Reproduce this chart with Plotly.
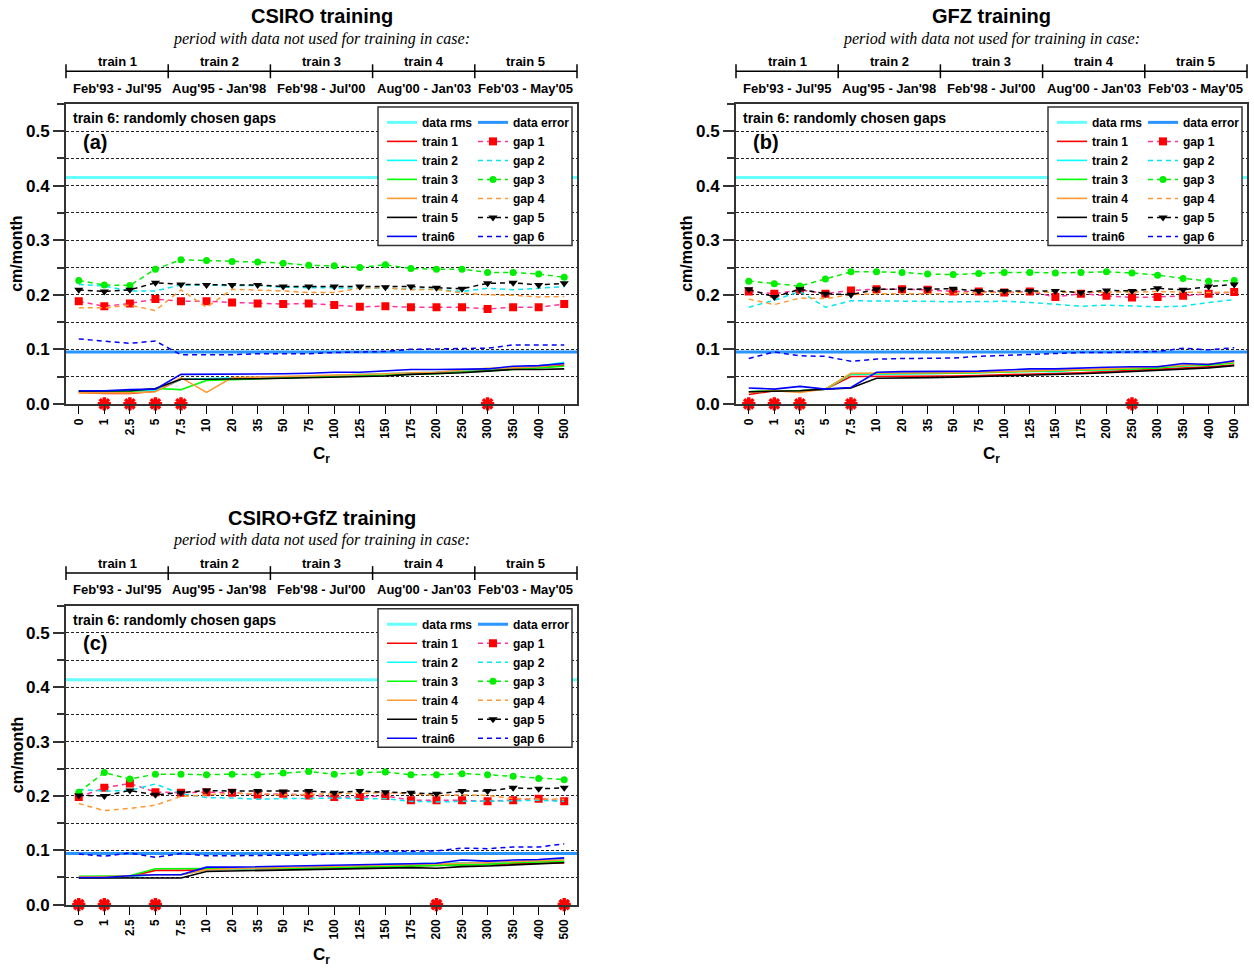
import plotly.graph_objects as go

W, H = 1254, 975
FONT = "Liberation Sans, Arial, Helvetica, sans-serif"
SERIF = "Liberation Serif, Times New Roman, serif"

# ---------------- data ----------------
CATS = ["0", "1", "2.5", "5", "7.5", "10", "20", "35", "50", "75", "100", "125",
        "150", "175", "200", "250", "300", "350", "400", "500"]
PERIOD_TRAINS = ["train 1", "train 2", "train 3", "train 4", "train 5"]
PERIOD_DATES = ["Feb'93 - Jul'95", "Aug'95 - Jan'98", "Feb'98 - Jul'00",
                "Aug'00 - Jan'03", "Feb'03 - May'05"]
TITLES = ["CSIRO training", "GFZ training", "CSIRO+GfZ training"]
PANEL_LABELS = ["(a)", "(b)", "(c)"]

DATA_RMS = [0.415, 0.415, 0.414]
DATA_ERROR = [0.095, 0.095, 0.094]

# panel (a) CSIRO
A_TRAIN1 = [0.021, 0.019, 0.019, 0.023, 0.045, 0.045, 0.046, 0.047, 0.048, 0.048, 0.050, 0.051, 0.052, 0.055, 0.057, 0.059, 0.062, 0.065, 0.068, 0.071]
A_TRAIN2 = [0.024, 0.022, 0.022, 0.025, 0.045, 0.046, 0.047, 0.048, 0.049, 0.050, 0.052, 0.054, 0.055, 0.057, 0.058, 0.061, 0.063, 0.066, 0.069, 0.076]
A_TRAIN3 = [0.022, 0.021, 0.022, 0.028, 0.026, 0.043, 0.044, 0.046, 0.048, 0.049, 0.050, 0.051, 0.052, 0.054, 0.055, 0.058, 0.060, 0.063, 0.066, 0.069]
A_TRAIN4 = [0.020, 0.020, 0.020, 0.022, 0.048, 0.021, 0.048, 0.049, 0.050, 0.051, 0.052, 0.053, 0.055, 0.057, 0.058, 0.062, 0.065, 0.066, 0.068, 0.073]
A_TRAIN5 = [0.023, 0.023, 0.024, 0.028, 0.045, 0.045, 0.045, 0.046, 0.047, 0.048, 0.050, 0.050, 0.051, 0.054, 0.055, 0.057, 0.060, 0.063, 0.063, 0.064]
A_TRAIN6 = [0.024, 0.024, 0.026, 0.027, 0.054, 0.054, 0.054, 0.055, 0.055, 0.056, 0.058, 0.058, 0.060, 0.063, 0.063, 0.064, 0.064, 0.069, 0.070, 0.074]
A_GAP1 = [0.188, 0.179, 0.184, 0.192, 0.188, 0.188, 0.186, 0.184, 0.183, 0.184, 0.181, 0.178, 0.179, 0.177, 0.177, 0.177, 0.174, 0.177, 0.177, 0.183]
A_GAP2 = [0.219, 0.216, 0.207, 0.207, 0.218, 0.217, 0.217, 0.217, 0.214, 0.213, 0.213, 0.212, 0.212, 0.210, 0.210, 0.206, 0.212, 0.209, 0.212, 0.215]
A_GAP3 = [0.226, 0.218, 0.217, 0.247, 0.264, 0.263, 0.261, 0.260, 0.258, 0.254, 0.253, 0.250, 0.255, 0.248, 0.247, 0.247, 0.241, 0.241, 0.238, 0.232]
A_GAP4 = [0.176, 0.176, 0.181, 0.171, 0.209, 0.177, 0.210, 0.209, 0.207, 0.204, 0.204, 0.212, 0.213, 0.209, 0.210, 0.203, 0.200, 0.199, 0.196, 0.197]
A_GAP5 = [0.209, 0.206, 0.209, 0.222, 0.219, 0.218, 0.218, 0.218, 0.215, 0.215, 0.215, 0.215, 0.214, 0.215, 0.213, 0.211, 0.221, 0.222, 0.218, 0.221]
A_GAP6 = [0.119, 0.115, 0.111, 0.115, 0.090, 0.090, 0.090, 0.092, 0.092, 0.092, 0.094, 0.095, 0.096, 0.100, 0.101, 0.102, 0.102, 0.108, 0.108, 0.108]
A_STARS = ["1", "2.5", "5", "7.5", "300"]
A_STAR_Y = [0, 0, 0, 0, 0]

# panel (b) GFZ
B_TRAIN1 = [0.017, 0.024, 0.024, 0.027, 0.050, 0.050, 0.050, 0.050, 0.051, 0.052, 0.053, 0.054, 0.055, 0.057, 0.059, 0.061, 0.064, 0.066, 0.068, 0.071]
B_TRAIN2 = [0.022, 0.024, 0.024, 0.027, 0.054, 0.054, 0.055, 0.055, 0.056, 0.057, 0.059, 0.060, 0.059, 0.063, 0.062, 0.064, 0.066, 0.069, 0.072, 0.076]
B_TRAIN3 = [0.022, 0.024, 0.024, 0.027, 0.055, 0.055, 0.055, 0.056, 0.056, 0.057, 0.058, 0.059, 0.060, 0.061, 0.062, 0.064, 0.066, 0.070, 0.071, 0.075]
B_TRAIN4 = [0.021, 0.024, 0.021, 0.027, 0.056, 0.056, 0.056, 0.057, 0.057, 0.058, 0.059, 0.060, 0.061, 0.062, 0.064, 0.066, 0.068, 0.071, 0.073, 0.077]
B_TRAIN5 = [0.022, 0.023, 0.024, 0.027, 0.029, 0.047, 0.047, 0.048, 0.049, 0.050, 0.051, 0.052, 0.053, 0.055, 0.057, 0.059, 0.062, 0.064, 0.066, 0.070]
B_TRAIN6 = [0.029, 0.027, 0.032, 0.027, 0.030, 0.058, 0.059, 0.059, 0.060, 0.060, 0.062, 0.064, 0.064, 0.066, 0.067, 0.068, 0.068, 0.074, 0.072, 0.079]
B_GAP1 = [0.206, 0.202, 0.209, 0.202, 0.208, 0.210, 0.210, 0.209, 0.206, 0.206, 0.204, 0.206, 0.196, 0.202, 0.198, 0.195, 0.196, 0.198, 0.202, 0.205]
B_GAP2 = [0.177, 0.190, 0.206, 0.177, 0.189, 0.189, 0.189, 0.188, 0.187, 0.187, 0.188, 0.186, 0.182, 0.179, 0.181, 0.179, 0.178, 0.179, 0.186, 0.191]
B_GAP3 = [0.225, 0.220, 0.216, 0.229, 0.242, 0.242, 0.241, 0.238, 0.237, 0.239, 0.241, 0.241, 0.240, 0.241, 0.242, 0.240, 0.236, 0.230, 0.225, 0.226]
B_GAP4 = [0.192, 0.182, 0.194, 0.193, 0.200, 0.202, 0.202, 0.202, 0.202, 0.204, 0.204, 0.205, 0.204, 0.204, 0.205, 0.205, 0.206, 0.205, 0.204, 0.205]
B_GAP5 = [0.210, 0.196, 0.210, 0.202, 0.200, 0.210, 0.210, 0.210, 0.211, 0.207, 0.207, 0.207, 0.207, 0.204, 0.208, 0.207, 0.212, 0.209, 0.215, 0.219]
B_GAP6 = [0.083, 0.095, 0.088, 0.087, 0.078, 0.082, 0.083, 0.084, 0.084, 0.087, 0.089, 0.090, 0.092, 0.094, 0.094, 0.095, 0.096, 0.102, 0.099, 0.103]
B_STARS = ["0", "1", "2.5", "7.5", "250"]
B_STAR_Y = [0, 0, 0, 0, 0]

# panel (c) CSIRO+GfZ
C_TRAIN1 = [0.050, 0.050, 0.052, 0.063, 0.063, 0.064, 0.065, 0.066, 0.067, 0.068, 0.069, 0.070, 0.071, 0.072, 0.072, 0.073, 0.074, 0.076, 0.077, 0.077]
C_TRAIN2 = [0.050, 0.050, 0.052, 0.055, 0.055, 0.064, 0.065, 0.066, 0.067, 0.068, 0.069, 0.071, 0.074, 0.075, 0.075, 0.076, 0.077, 0.079, 0.080, 0.083]
C_TRAIN3 = [0.052, 0.052, 0.053, 0.066, 0.066, 0.066, 0.066, 0.067, 0.067, 0.067, 0.068, 0.069, 0.070, 0.071, 0.072, 0.073, 0.074, 0.077, 0.078, 0.080]
C_TRAIN4 = [0.051, 0.051, 0.053, 0.055, 0.055, 0.064, 0.066, 0.067, 0.068, 0.069, 0.070, 0.071, 0.072, 0.073, 0.074, 0.076, 0.078, 0.080, 0.081, 0.082]
C_TRAIN5 = [0.049, 0.049, 0.049, 0.049, 0.049, 0.061, 0.062, 0.062, 0.063, 0.064, 0.065, 0.066, 0.067, 0.068, 0.067, 0.070, 0.071, 0.073, 0.074, 0.077]
C_TRAIN6 = [0.050, 0.050, 0.053, 0.055, 0.055, 0.069, 0.069, 0.070, 0.070, 0.071, 0.072, 0.073, 0.075, 0.076, 0.076, 0.082, 0.080, 0.082, 0.083, 0.086]
C_GAP1 = [0.198, 0.215, 0.223, 0.207, 0.206, 0.207, 0.206, 0.202, 0.204, 0.201, 0.198, 0.198, 0.200, 0.192, 0.192, 0.192, 0.190, 0.192, 0.195, 0.190]
C_GAP2 = [0.212, 0.209, 0.210, 0.222, 0.204, 0.197, 0.196, 0.194, 0.195, 0.196, 0.196, 0.195, 0.195, 0.190, 0.189, 0.190, 0.190, 0.191, 0.192, 0.190]
C_GAP3 = [0.207, 0.243, 0.231, 0.240, 0.240, 0.239, 0.240, 0.239, 0.242, 0.245, 0.240, 0.243, 0.244, 0.239, 0.239, 0.241, 0.239, 0.236, 0.232, 0.230]
C_GAP4 = [0.186, 0.173, 0.177, 0.183, 0.199, 0.202, 0.205, 0.204, 0.202, 0.203, 0.204, 0.205, 0.206, 0.204, 0.201, 0.202, 0.201, 0.195, 0.195, 0.194]
C_GAP5 = [0.201, 0.200, 0.210, 0.202, 0.206, 0.210, 0.209, 0.209, 0.208, 0.209, 0.206, 0.209, 0.207, 0.206, 0.204, 0.209, 0.209, 0.215, 0.213, 0.215]
C_GAP6 = [0.093, 0.089, 0.095, 0.087, 0.094, 0.090, 0.090, 0.091, 0.091, 0.091, 0.093, 0.095, 0.098, 0.098, 0.099, 0.104, 0.103, 0.106, 0.106, 0.112]
C_STARS = ["0", "1", "5", "200", "500"]
C_STAR_Y = [0, 0, 0, 0, 0]

TRAIN_NAMES = ["train 1", "train 2", "train 3", "train 4", "train 5", "train6"]
GAP_NAMES = ["gap 1", "gap 2", "gap 3", "gap 4", "gap 5", "gap 6"]

PANELS = [
    dict(train=[A_TRAIN1, A_TRAIN2, A_TRAIN3, A_TRAIN4, A_TRAIN5, A_TRAIN6],
         gap=[A_GAP1, A_GAP2, A_GAP3, A_GAP4, A_GAP5, A_GAP6],
         stars=A_STARS, stars_y=A_STAR_Y),
    dict(train=[B_TRAIN1, B_TRAIN2, B_TRAIN3, B_TRAIN4, B_TRAIN5, B_TRAIN6],
         gap=[B_GAP1, B_GAP2, B_GAP3, B_GAP4, B_GAP5, B_GAP6],
         stars=B_STARS, stars_y=B_STAR_Y),
    dict(train=[C_TRAIN1, C_TRAIN2, C_TRAIN3, C_TRAIN4, C_TRAIN5, C_TRAIN6],
         gap=[C_GAP1, C_GAP2, C_GAP3, C_GAP4, C_GAP5, C_GAP6],
         stars=C_STARS, stars_y=C_STAR_Y),
]

# ---------------- styles ----------------
TRAIN_COLORS = ["#ff0000", "#00ffff", "#00ff00", "#ff9933", "#000000", "#0000ff"]
GAP_COLORS = ["#ff3399", "#00e8f0", "#00ee00", "#ff9933", "#000000", "#0000ff"]
GAP_MARKERS = [dict(symbol="square", size=8, color="#ff0000"), None,
               dict(symbol="circle", size=7, color="#00ee00"), None,
               dict(symbol="triangle-down", size=8, color="#000000"), None]
RMS_COLOR = "#66ffff"
ERR_COLOR = "#2b95ff"

# panel geometry (pixels): left, right, top, bottom
GEOM = [(66, 577, 105, 408), (736, 1247, 105, 408), (66, 577, 612, 914)]
HEADER_DY = [0, 0, 507]


def px(x):
    return x / W


def py(y):
    return 1 - y / H


fig = go.Figure()
shapes = []
annotations = []
layout = dict(width=W, height=H, margin=dict(l=0, r=0, t=0, b=0),
              paper_bgcolor="white", plot_bgcolor="white", showlegend=True,
              font=dict(family=FONT, color="black"))

for i, panel in enumerate(PANELS):
    n = i + 1
    xa = "x" if n == 1 else f"x{n}"
    ya = "y" if n == 1 else f"y{n}"
    xkey = "xaxis" if n == 1 else f"xaxis{n}"
    ykey = "yaxis" if n == 1 else f"yaxis{n}"
    legL = "legend" if n == 1 else f"legend{2 * n - 1}"
    legR = f"legend{2 * n}"
    l, r, t, b = GEOM[i]
    dy = HEADER_DY[i]

    layout[xkey] = dict(
        domain=[px(l), px(r)], anchor=ya, type="category", categoryorder="array",
        categoryarray=CATS, range=[-0.5, len(CATS) - 0.5],
        ticks="outside", ticklen=8, tickwidth=1, tickcolor="black", tickangle=-90,
        tickfont=dict(family=FONT, size=12, weight="bold", color="black"),
        showgrid=False, zeroline=False, showline=True, mirror=True,
        linecolor="#333333", linewidth=2, fixedrange=True)
    layout[ykey] = dict(
        domain=[py(b), py(t)], anchor=xa, range=[0, 0.55], tick0=0, dtick=0.1,
        tickformat=".1f", ticks="outside", ticklen=11, tickwidth=1.5, tickcolor="#333333",
        tickfont=dict(family=FONT, size=17, weight="bold", color="black"),
        showgrid=True, gridcolor="#222222", gridwidth=1, griddash="3px,2px",
        minor=dict(dtick=0.05, ticks="outside", ticklen=7, tickwidth=1.5, tickcolor="#333333",
                   showgrid=True, gridcolor="#222222", gridwidth=1, griddash="3px,2px"),
        zeroline=False, showline=True, mirror=True, linecolor="#333333", linewidth=2,
        fixedrange=True)

    # data rms / data error lines (with legend entries)
    shapes.append(dict(type="line", xref=f"{xa} domain", yref=ya, x0=0, x1=1,
                       y0=DATA_RMS[i], y1=DATA_RMS[i], layer="below",
                       line=dict(color=RMS_COLOR, width=3), showlegend=True,
                       name="data rms", legend=legL, legendrank=1))
    shapes.append(dict(type="line", xref=f"{xa} domain", yref=ya, x0=0, x1=1,
                       y0=DATA_ERROR[i], y1=DATA_ERROR[i], layer="below",
                       line=dict(color=ERR_COLOR, width=3), showlegend=True,
                       name="data error", legend=legR, legendrank=1))

    # gap lines
    for k in range(6):
        mk = GAP_MARKERS[k]
        fig.add_trace(go.Scatter(
            x=CATS, y=panel["gap"][k], xaxis=xa, yaxis=ya,
            mode="lines+markers" if mk else "lines", name=GAP_NAMES[k],
            line=dict(color=GAP_COLORS[k], width=1.5, dash="5px,4px"),
            marker=mk if mk else None, legend=legR, legendrank=k + 2,
            hoverinfo="skip"))
    # train lines
    for k in range(6):
        fig.add_trace(go.Scatter(
            x=CATS, y=panel["train"][k], xaxis=xa, yaxis=ya, mode="lines",
            name=TRAIN_NAMES[k], line=dict(color=TRAIN_COLORS[k], width=1.6),
            legend=legL, legendrank=k + 2, hoverinfo="skip"))
    # best-choice stars on the axis
    fig.add_trace(go.Scatter(
        x=panel["stars"], y=panel["stars_y"], xaxis=xa, yaxis=ya, mode="markers",
        marker=dict(symbol="asterisk-open", size=11, color="#ff0000",
                    line=dict(color="#ff0000", width=3.5)),
        showlegend=False, cliponaxis=False, hoverinfo="skip"))

    # legends (two columns) with a shared box
    for key, xpix in ((legL, l + 316), (legR, l + 407)):
        layout[key] = dict(
            x=px(xpix), y=py(t + 4), xanchor="left", yanchor="top", orientation="v",
            bgcolor="rgba(0,0,0,0)", borderwidth=0, traceorder="normal",
            font=dict(family=FONT, size=12, weight="bold", color="black"),
            itemclick=False, itemdoubleclick=False)
    shapes.append(dict(type="rect", xref="paper", yref="paper",
                       x0=px(l + 312), x1=px(l + 506), y0=py(t + 3), y1=py(t + 143),
                       fillcolor="white", line=dict(color="#333333", width=1.5),
                       layer="above"))

    # header: title, subtitle, period timeline
    xd = f"{xa} domain"
    annotations.append(dict(text=TITLES[i], xref=xd, yref="paper", x=0.5, y=py(16 + dy),
                            showarrow=False, xanchor="center", yanchor="middle",
                            font=dict(family=FONT, size=20, weight="bold", color="black")))
    annotations.append(dict(text="period with data not used for training in case:", xref=xd,
                            yref="paper", x=0.5, y=py(39 + dy), showarrow=False,
                            xanchor="center", yanchor="middle",
                            font=dict(family=SERIF, size=16, style="italic", color="black")))
    shapes.append(dict(type="line", xref=xd, yref="paper", x0=0, x1=1,
                       y0=py(72 + dy), y1=py(72 + dy), line=dict(color="black", width=1.5)))
    nseg = len(PERIOD_TRAINS)
    for s in range(nseg + 1):
        shapes.append(dict(type="line", xref=xd, yref="paper", x0=s / nseg, x1=s / nseg,
                           y0=py(65 + dy), y1=py(79 + dy), line=dict(color="black", width=1.5)))
    for s in range(nseg):
        annotations.append(dict(text=PERIOD_TRAINS[s], xref=xd, yref="paper",
                                x=(s + 0.5) / nseg, y=py(62 + dy), showarrow=False,
                                xanchor="center", yanchor="middle",
                                font=dict(family=FONT, size=13, weight="bold", color="black")))
        annotations.append(dict(text=PERIOD_DATES[s], xref=xd, yref="paper",
                                x=(s + 0.5) / nseg, y=py(89 + dy), showarrow=False,
                                xanchor="center", yanchor="middle",
                                font=dict(family=FONT, size=13, weight="bold", color="black")))

    # inner labels
    annotations.append(dict(text="train 6: randomly chosen gaps", xref="paper", yref="paper",
                            x=px(l + 5), y=py(t + 14), showarrow=False, xanchor="left",
                            yanchor="middle",
                            font=dict(family=FONT, size=14, weight="bold", color="black")))
    annotations.append(dict(text=PANEL_LABELS[i], xref="paper", yref="paper",
                            x=px(l + 15), y=py(t + 38), showarrow=False, xanchor="left",
                            yanchor="middle",
                            font=dict(family=FONT, size=20, weight="bold", color="black")))
    # axis titles
    annotations.append(dict(text="cm/month", xref="paper", yref="paper",
                            x=px(l - 49), y=py((t + b) / 2), showarrow=False, textangle=-90,
                            xanchor="center", yanchor="middle",
                            font=dict(family=FONT, size=16, weight="bold", color="black")))
    annotations.append(dict(text="C<sub>r</sub>", xref=xd, yref="paper",
                            x=0.5, y=py(b + 52), showarrow=False,
                            xanchor="center", yanchor="middle",
                            font=dict(family=FONT, size=17, weight="bold", color="black")))

layout["shapes"] = shapes
layout["annotations"] = annotations
fig.update_layout(**layout)
fig.write_html("out.html", config={"displayModeBar": False},
               post_script="document.body.style.margin='0';document.body.style.overflow='hidden';")
